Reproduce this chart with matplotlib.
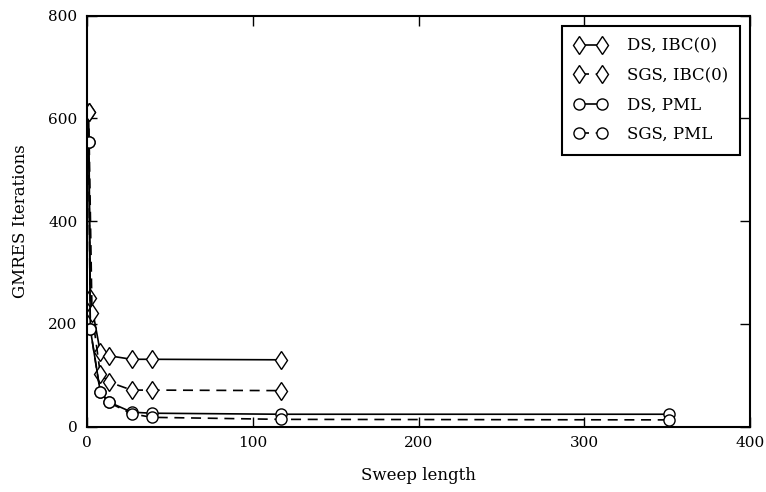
import numpy as np
import matplotlib
matplotlib.use('Agg')
import matplotlib.pyplot as plt
from matplotlib import rcParams

# Sweep lengths and GMRES iteration counts
x_ibc = [1, 2, 8, 13, 27, 39, 117]
ds_ibc = [613, 250, 145, 138, 131, 131, 130]
x_ibc_sgs = [1, 3, 8, 13, 27, 39, 117]
sgs_ibc = [613, 222, 103, 87, 71, 71, 70]

x_pml = [1, 2, 8, 13, 27, 39, 117, 351]
ds_pml = [555, 190, 68, 48, 28, 26, 24, 24]
sgs_pml = [555, 190, 67, 47, 25, 18, 14, 13]

rcParams['font.family'] = 'DejaVu Serif'
rcParams['font.size'] = 11

fig = plt.figure(figsize=(7.66, 4.92), dpi=100)
ax = fig.add_axes([0.1136, 0.133, 0.8655, 0.835])

mk = dict(markerfacecolor='white', markeredgecolor='black', markeredgewidth=1.0,
          color='black', lw=1.2, clip_on=True)
ax.plot(x_ibc, ds_ibc, '-', marker='d', markersize=9.5, label='DS, IBC(0)', **mk)
ax.plot(x_ibc_sgs, sgs_ibc, '--', marker='d', markersize=9.5, label='SGS, IBC(0)', dashes=(6, 4), **mk)
ax.plot(x_pml, ds_pml, '-', marker='o', markersize=8, label='DS, PML', **mk)
ax.plot(x_pml, sgs_pml, '--', marker='o', markersize=8, label='SGS, PML', dashes=(6, 4), **mk)

ax.set_xlim(0, 400)
ax.set_ylim(0, 800)
ax.set_xticks([0, 100, 200, 300, 400])
ax.set_yticks([0, 200, 400, 600, 800])
ax.tick_params(direction='in', length=7, width=1, top=True, right=True, pad=7)
for s in ax.spines.values():
    s.set_linewidth(1.5)
    s.set_zorder(5)

ax.set_xlabel('Sweep length', fontsize=12, labelpad=12)
ax.set_ylabel('GMRES Iterations', fontsize=12, labelpad=14)

leg = ax.legend(loc='upper right', numpoints=2, handlelength=2.0, fancybox=False,
                framealpha=1, edgecolor='black', borderaxespad=0.6, labelspacing=0.75,
                fontsize=12, handletextpad=1.2, borderpad=0.7)
leg.get_frame().set_linewidth(1.5)

plt.savefig('out.png', dpi=100)
